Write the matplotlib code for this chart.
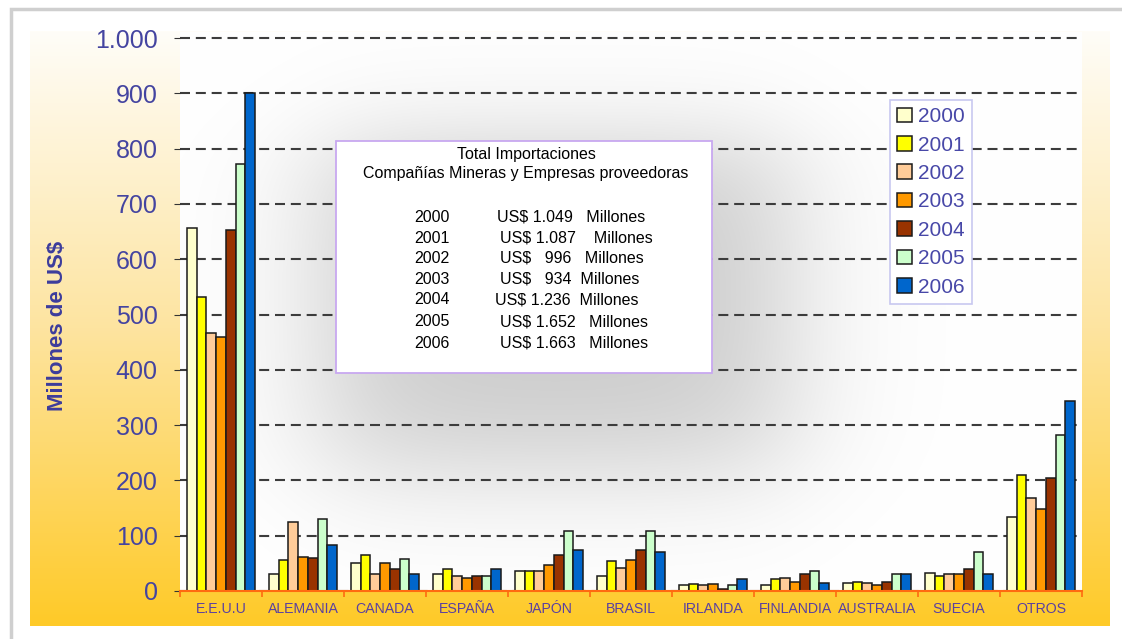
import numpy as np
import matplotlib
matplotlib.use("Agg")
import matplotlib.pyplot as plt
from matplotlib.patches import Rectangle

plt.rcParams['font.family'] = ['Liberation Sans', 'DejaVu Sans']

categories = ['E.E.U.U', 'ALEMANIA', 'CANADA', 'ESPAÑA', 'JAPÓN', 'BRASIL',
              'IRLANDA', 'FINLANDIA', 'AUSTRALIA', 'SUECIA', 'OTROS']
years = ['2000', '2001', '2002', '2003', '2004', '2005', '2006']

v2000 = [656, 31, 50, 30, 36, 28, 10, 10, 14, 33, 133]
v2001 = [532, 56, 66, 40, 36, 55, 13, 21, 17, 27, 209]
v2002 = [467, 125, 30, 27, 36, 41, 11, 24, 14, 30, 169]
v2003 = [459, 62, 50, 24, 47, 56, 13, 17, 10, 30, 149]
v2004 = [653, 59, 40, 27, 65, 74, 4, 30, 17, 39, 204]
v2005 = [772, 131, 58, 27, 108, 108, 10, 36, 30, 71, 283]
v2006 = [900, 84, 31, 39, 74, 71, 21, 14, 30, 30, 343]
series = [v2000, v2001, v2002, v2003, v2004, v2005, v2006]

colors = ['#FFFFCC', '#FFFF00', '#FFCC99', '#FF9900', '#993300', '#CCFFCC', '#0066CC']

# totales por año (recuadro central)
totals = ['US$ 1.049   Millones', 'US$ 1.087    Millones', 'US$   996   Millones',
          'US$   934  Millones', 'US$ 1.236  Millones', 'US$ 1.652   Millones',
          'US$ 1.663   Millones']

W, H = 1122, 639
fig = plt.figure(figsize=(W / 100, H / 100), dpi=100)
fig.patch.set_facecolor('white')

# marco con sombra
fig.add_artist(Rectangle((11 / W, -0.05), 1.2, (H - 9) / H + 0.05, transform=fig.transFigure,
                         facecolor='white', edgecolor='#cfcfcf', lw=2.5, zorder=-5))

# fondo degradado dorado
bg = fig.add_axes([30 / W, 13 / H, (1110 - 30) / W, (626 - 31) / H])
t = np.linspace(0, 1, 256).reshape(-1, 1)
top = np.array([255, 253, 248]) / 255
mid = np.array([253, 228, 160]) / 255
bot = np.array([255, 202, 40]) / 255
grad = np.where(t < 0.5, top + (mid - top) * (t / 0.5), mid + (bot - mid) * ((t - 0.5) / 0.5))
grad = np.repeat(grad[:, None, :], 4, axis=1)
bg.imshow(grad, aspect='auto', extent=[0, 1, 0, 1], origin='upper')
bg.set_axis_off()

x0, x1, y0, y1 = 180, 1082, 32, 591
ymax = 1000 * (591 - 32) / (591 - 38)
ax = fig.add_axes([x0 / W, (H - y1) / H, (x1 - x0) / W, (y1 - y0) / H])

# sombra difusa gris en el área de trazado
px = np.arange(x0, x1)[None, :]
py = np.arange(y0, y1)[:, None]
s = lambda v, w: 0.5 * (1 + np.tanh(v / w))
blob = s(px - 320, 80) * s(790 - px, 80) * s(py - 140, 60) * s(470 - py, 70)
shade = 1 - 0.2 * blob
img = np.dstack([shade, shade, shade])
ax.imshow(img, aspect='auto', extent=[-0.5, 10.5, 0, ymax], origin='upper', zorder=0)

x = np.arange(len(categories))
bw = 0.118
for i, (yr, vals, c) in enumerate(zip(years, series, colors)):
    ax.bar(x + (i - 3) * bw, vals, bw, color=c, edgecolor='#1a1a1a', lw=1.1,
           label=yr, zorder=2)

ax.set_xlim(-0.5, 10.5)
ax.set_ylim(0, ymax)
ax.set_yticks(np.arange(0, 1001, 100))
ax.set_yticklabels(['0', '100', '200', '300', '400', '500', '600', '700', '800', '900', '1.000'])
ax.set_axisbelow(True)
ax.yaxis.grid(True, color='#3c3c3c', lw=1.5, linestyle=(0, (4.8, 2.8)))
for sp in ['left', 'right', 'top']:
    ax.spines[sp].set_visible(False)
ax.spines['bottom'].set_color('#FF6a10')
ax.spines['bottom'].set_linewidth(1.5)

ax.tick_params(axis='y', length=4, color='#333333', pad=12, labelsize=18, labelcolor='#4444a0')
ax.set_xticks(x)
ax.set_xticklabels(categories)
ax.tick_params(axis='x', which='major', length=0, pad=8, labelsize=10.2, labelcolor='#5a40a0')
ax.set_xticks(np.arange(-0.5, 11, 1), minor=True)
ax.tick_params(axis='x', which='minor', length=4, color='#FF6a10', width=1.2)

ax.set_ylabel('Millones de US$', fontsize=16, fontweight='bold', color='#3c3c9c')
ax.yaxis.set_label_coords((68 - x0) / (x1 - x0), 0.475)

leg = ax.legend(loc='upper left', bbox_to_anchor=(890 / W, 1 - 100 / H),
                bbox_transform=fig.transFigure, fontsize=15, frameon=True, fancybox=False,
                edgecolor='#c8c8f0', framealpha=1, handlelength=0.7, handleheight=0.7,
                handletextpad=0.3, labelspacing=0.45, borderpad=0.35, borderaxespad=0)
leg.get_frame().set_linewidth(1.2)
for txt in leg.get_texts():
    txt.set_color('#4848a8')
leg.set_zorder(5)

# recuadro con totales
bx0, by0, bx1, by1 = 336, 141, 712, 373
fig.add_artist(Rectangle((bx0 / W, 1 - by1 / H), (bx1 - bx0) / W, (by1 - by0) / H,
                         transform=fig.transFigure, facecolor='white', edgecolor='#c8a8f0',
                         lw=1.3, zorder=6))
fs = 11.5
fig.text(526 / W, 1 - 155 / H, 'Total Importaciones', ha='center', va='center',
         fontsize=fs, zorder=7)
fig.text(526 / W, 1 - 174 / H, 'Compañías Mineras y Empresas proveedoras', ha='center',
         va='center', fontsize=fs, zorder=7)
row_y = [217, 238, 258, 279, 300, 322, 343]
row_x = [497, 500, 500, 500, 495, 500, 500]
for yr, tot, ry, rx in zip(years, totals, row_y, row_x):
    fig.text(432 / W, 1 - ry / H, yr, ha='center', va='center', fontsize=fs, zorder=7)
    fig.text(rx / W, 1 - ry / H, tot, ha='left', va='center', fontsize=fs, zorder=7)

fig.savefig('out.png', dpi=100)
